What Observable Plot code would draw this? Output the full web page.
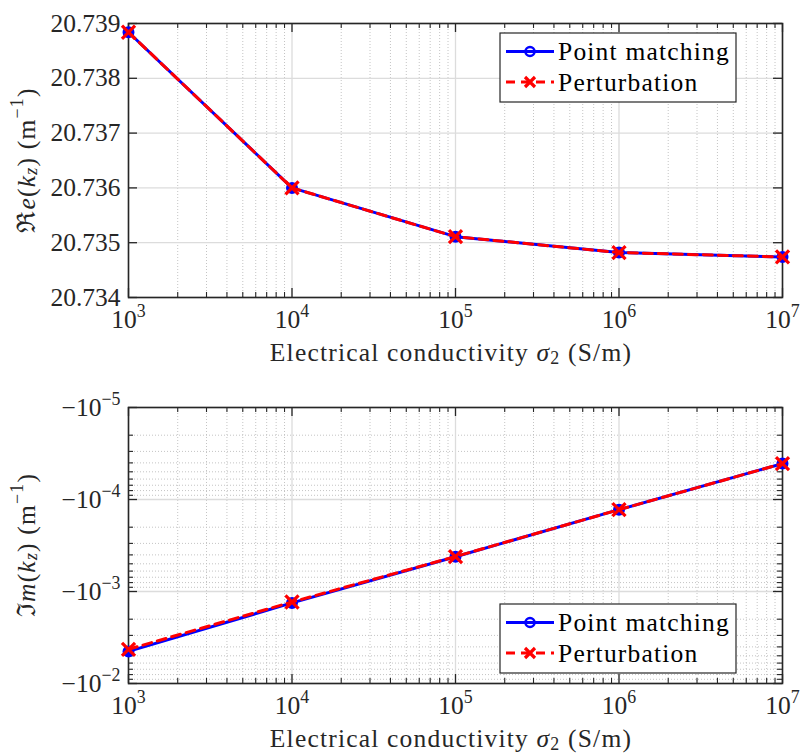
<!DOCTYPE html>
<html><head><meta charset="utf-8">
<script src="https://cdn.jsdelivr.net/npm/d3@7"></script>
<script src="https://cdn.jsdelivr.net/npm/@observablehq/plot@0.6"></script>
<style>
body{margin:0;background:#fff;}
#chart svg{display:block;}
</style></head><body><div id="chart"></div>
<script>
// ---- data ----
const sigma = [1e3, 1e4, 1e5, 1e6, 1e7];
const reKzPointMatching = [20.73884, 20.73600, 20.73511, 20.73482, 20.73474];
const reKzPerturbation  = [20.73884, 20.73600, 20.73511, 20.73482, 20.73474];
const imKzPointMatching = [-4.48e-3, -1.33e-3, -4.19e-4, -1.29e-4, -4.07e-5];
const imKzPerturbation  = [-4.25e-3, -1.30e-3, -4.17e-4, -1.29e-4, -4.07e-5];
const seriesNames = ["Point matching", "Perturbation"];
const xTicks = [1e3, 1e4, 1e5, 1e6, 1e7];
const reTicks = [20.734, 20.735, 20.736, 20.737, 20.738, 20.739];
const imTicks = [-1e-2, -1e-3, -1e-4, -1e-5];
const xLabel = "Electrical conductivity ";

const FONT = "'Liberation Serif', 'Times New Roman', serif";
const FS = 25.5;
const LS = 1.2; // letter spacing for word labels
const W = 803, ML = 128, MR = 21;
const TXT = "#262626";

const minorDec = (lo, hi, sign = 1) => {
  const out = [];
  for (let e = lo; e < hi; e++) for (let k = 2; k <= 9; k++) out.push(sign * k * Math.pow(10, e));
  return out;
};
const xMinor = minorDec(3, 7);
const imMinor = minorDec(-5, -2, -1);

function rows(ys, name) { return sigma.map((s, i) => ({s, v: ys[i], name})); }

function supFix(svg) {
  d3.select(svg).selectAll("text").each(function() {
    const t = this.textContent;
    if (!t.includes("^")) return;
    const [base, exp] = t.split("^");
    const sel = d3.select(this);
    sel.text(null);
    sel.append("tspan").text(base);
    sel.append("tspan").attr("font-size", FS * 0.7).attr("dy", -FS * 0.42).text(exp);
  });
}

function panel({height, mt, mb, y, yTicks, yMinor, yFmt, dataPM, dataPT}) {
  const plotH = height - mt - mb, plotW = W - ML - MR;
  const marks = [
    Plot.ruleX(xMinor, {stroke: "#c4c4c4", strokeDasharray: "1,2", strokeWidth: 1}),
    ...(yMinor ? [Plot.ruleY(yMinor, {stroke: "#c4c4c4", strokeDasharray: "1,2", strokeWidth: 1})] : []),
    Plot.ruleX(xTicks, {stroke: "#dcdcdc", strokeWidth: 1.3}),
    Plot.ruleY(yTicks, {stroke: "#dcdcdc", strokeWidth: 1.3}),
    // inward ticks
    Plot.tickX(xTicks, {insetTop: plotH - 9, stroke: TXT, strokeWidth: 1.3}),
    Plot.tickX(xTicks, {insetBottom: plotH - 9, stroke: TXT, strokeWidth: 1.3}),
    Plot.tickX(xMinor, {insetTop: plotH - 5, stroke: TXT, strokeWidth: 1.1}),
    Plot.tickX(xMinor, {insetBottom: plotH - 5, stroke: TXT, strokeWidth: 1.1}),
    Plot.tickY(yTicks, {insetRight: plotW - 9, stroke: TXT, strokeWidth: 1.3}),
    Plot.tickY(yTicks, {insetLeft: plotW - 9, stroke: TXT, strokeWidth: 1.3}),
    ...(yMinor ? [
      Plot.tickY(yMinor, {insetRight: plotW - 5, stroke: TXT, strokeWidth: 1.1}),
      Plot.tickY(yMinor, {insetLeft: plotW - 5, stroke: TXT, strokeWidth: 1.1})] : []),
    Plot.frame({stroke: TXT, strokeWidth: 1.6}),
    Plot.axisX({ticks: xTicks, tickFormat: d => "10^" + Math.round(Math.log10(d)), tickSize: 0, tickPadding: 12, label: null, fill: TXT}),
    Plot.axisY({ticks: yTicks, tickFormat: yFmt, tickSize: 0, tickPadding: 8, label: null, fill: TXT}),
    Plot.line(dataPM, {x: "s", y: "v", stroke: "#0000ff", strokeWidth: 3}),
    Plot.dot(dataPM, {x: "s", y: "v", symbol: "circle", stroke: "#0000ff", fill: "#0000ff", strokeWidth: 2, r: 5}),
    Plot.line(dataPT, {x: "s", y: "v", stroke: "#ff0000", strokeWidth: 3, strokeDasharray: "9,6"}),
    Plot.dot(dataPT, {x: "s", y: "v", symbol: "times", stroke: "#ff0000", strokeWidth: 3.2, r: 6})
  ];
  const svg = Plot.plot({
    width: W, height, marginLeft: ML, marginRight: MR, marginTop: mt, marginBottom: mb,
    style: {fontFamily: FONT, fontSize: FS + "px", background: "#fff", color: TXT, overflow: "visible"},
    x: {type: "log", domain: [1e3, 1e7]},
    y,
    marks
  });
  supFix(svg);
  return svg;
}

function addTexts(svg, {height, mt, mb, yLabelParts, legendY}) {
  const s = d3.select(svg);
  const cx = ML + (W - ML - MR) / 2;
  const frameBottom = height - mb;
  // x label
  const xl = s.append("text").attr("x", cx - 4).attr("y", frameBottom + 55)
    .attr("text-anchor", "middle").attr("dominant-baseline", "central")
    .attr("letter-spacing", LS)
    .attr("font-family", FONT).attr("font-size", FS).attr("fill", TXT);
  xl.append("tspan").text(xLabel);
  xl.append("tspan").attr("font-style", "italic").text("σ");
  xl.append("tspan").attr("font-size", FS * 0.7).attr("dy", 6).text("2");
  xl.append("tspan").attr("dy", -6).text(" (S/m)");
  // y label
  const cy = mt + (height - mt - mb) / 2;
  const yl = s.append("text").attr("transform", `translate(26,${cy}) rotate(-90)`)
    .attr("text-anchor", "middle").attr("dominant-baseline", "central")
    .attr("letter-spacing", LS)
    .attr("font-family", FONT).attr("font-size", FS).attr("fill", TXT);
  yLabelParts.forEach(p => {
    const t = yl.append("tspan").text(p.t);
    if (p.i) t.attr("font-style", "italic");
    if (p.dy) t.attr("dy", p.dy);
    if (p.fs) t.attr("font-size", p.fs);
  });
  // legend
  const lx = 500, lw = 236, lh = 69;
  const g = s.append("g");
  g.append("rect").attr("x", lx).attr("y", legendY).attr("width", lw).attr("height", lh)
    .attr("fill", "#fff").attr("stroke", TXT).attr("stroke-width", 1.2);
  const r1 = legendY + 18.5, r2 = legendY + 49;
  g.append("line").attr("x1", lx + 6).attr("x2", lx + 54).attr("y1", r1).attr("y2", r1)
    .attr("stroke", "#0000ff").attr("stroke-width", 3);
  g.append("circle").attr("cx", lx + 30).attr("cy", r1).attr("r", 4.5)
    .attr("fill", "none").attr("stroke", "#0000ff").attr("stroke-width", 2.5);
  g.append("line").attr("x1", lx + 6).attr("x2", lx + 54).attr("y1", r2).attr("y2", r2)
    .attr("stroke", "#ff0000").attr("stroke-width", 3).attr("stroke-dasharray", "9,6");
  g.append("path").attr("d", `M${lx+25},${r2-5}L${lx+35},${r2+5}M${lx+25},${r2+5}L${lx+35},${r2-5}`)
    .attr("stroke", "#ff0000").attr("stroke-width", 3.2).attr("fill", "none");
  [seriesNames[0], seriesNames[1]].forEach((n, i) => {
    g.append("text").attr("x", lx + 58).attr("y", i ? r2 : r1)
      .attr("text-anchor", "start").attr("dominant-baseline", "central")
      .attr("letter-spacing", LS)
      .attr("font-family", FONT).attr("font-size", FS).attr("fill", "#000").text(n);
  });
}

const topCfg = {height: 380, mt: 23, mb: 83};
const svgTop = panel({
  ...topCfg,
  y: {type: "linear", domain: [20.734, 20.739]},
  yTicks: reTicks, yMinor: null,
  yFmt: d => d.toFixed(3),
  dataPM: rows(reKzPointMatching, seriesNames[0]),
  dataPT: rows(reKzPerturbation, seriesNames[1])
});
addTexts(svgTop, {...topCfg, legendY: 33, yLabelParts: [
  {t: "ℜ"}, {t: "e", i: true}, {t: "("}, {t: "k", i: true},
  {t: "z", i: true, fs: FS * 0.7, dy: 5}, {t: ") (m", dy: -5}, {t: "−1", fs: FS * 0.7, dy: -9}, {t: ")", dy: 9}
]});

const botCfg = {height: 376, mt: 27, mb: 73};
const svgBot = panel({
  ...botCfg,
  y: {type: "log", domain: [-1e-2, -1e-5]},
  yTicks: imTicks, yMinor: imMinor,
  yFmt: d => "−10^−" + Math.round(-Math.log10(-d)),
  dataPM: rows(imKzPointMatching, seriesNames[0]),
  dataPT: rows(imKzPerturbation, seriesNames[1])
});
addTexts(svgBot, {...botCfg, legendY: 224, yLabelParts: [
  {t: "ℑ"}, {t: "m", i: true}, {t: "("}, {t: "k", i: true},
  {t: "z", i: true, fs: FS * 0.7, dy: 5}, {t: ") (m", dy: -5}, {t: "−1", fs: FS * 0.7, dy: -9}, {t: ")", dy: 9}
]});

document.getElementById("chart").append(svgTop, svgBot);
</script>
</body></html>
